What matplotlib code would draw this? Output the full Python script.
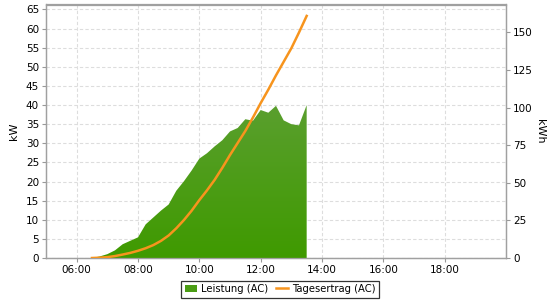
import numpy as np
import matplotlib
matplotlib.use("Agg")
import matplotlib.pyplot as plt
from matplotlib.patches import Patch
from matplotlib.lines import Line2D

# 15 minute values
times = ["06:30", "06:45", "07:00", "07:15", "07:30", "07:45", "08:00", "08:15",
         "08:30", "08:45", "09:00", "09:15", "09:30", "09:45", "10:00", "10:15",
         "10:30", "10:45", "11:00", "11:15", "11:30", "11:45", "12:00", "12:15",
         "12:30", "12:45", "13:00", "13:15", "13:30"]
leistung = [0.0, 0.4, 1.0, 2.0, 3.6, 4.5, 5.4, 8.8, 10.6, 12.4, 14.0, 17.6, 20.1,
            22.9, 26.0, 27.4, 29.2, 30.8, 33.1, 34.0, 36.3, 35.9, 38.7, 38.0,
            39.8, 36.0, 35.0, 34.7, 40.0]
tagesertrag = [0.0, 0.2, 0.6, 1.3, 2.3, 3.4, 4.8, 6.5, 8.6, 11.4, 15.0, 19.8, 25.3,
               31.5, 38.5, 45.0, 52.0, 60.0, 68.5, 76.5, 84.5, 93.5, 103.0, 112.0,
               121.5, 130.5, 139.5, 150.0, 161.0]
xtick_labels = ["06:00", "08:00", "10:00", "12:00", "14:00", "16:00", "18:00"]

def to_hours(s):
    h, m = s.split(":")
    return int(h) + int(m) / 60.0

t = np.array([to_hours(s) for s in times])
p = np.array(leistung)
e = np.array(tagesertrag)

fig = plt.figure(figsize=(5.6, 3.0), dpi=100)
ax = fig.add_axes([46 / 560, 42 / 300, 460 / 560, 253.5 / 300])
ax2 = ax.twinx()

ax.set_xlim(5, 20)
ax.set_ylim(0, 66.3)
ax2.set_ylim(0, 168.6)

# green area with vertical gradient
poly = ax.fill_between(t, 0, p, color="#4a9c14", lw=0, zorder=2)
grad = np.linspace(0, 1, 256).reshape(-1, 1)
cmap = matplotlib.colors.LinearSegmentedColormap.from_list("g", ["#3f9a00", "#5a9f2e"])
img = ax.imshow(grad, cmap=cmap, aspect="auto", origin="lower",
                extent=[t[0], t[-1], 0, p.max()], zorder=3)
img.set_clip_path(poly.get_paths()[0], transform=ax.transData)
poly.set_visible(False)

ax2.plot(t, e, color="#f7941d", lw=1.8, zorder=4)

ax.set_yticks(np.arange(0, 66, 5))
ax2.set_yticks([0, 25, 50, 75, 100, 125, 150])
ax.set_xticks([to_hours(s) for s in xtick_labels])
ax.set_xticklabels(xtick_labels)

ax.grid(True, color="#dddddd", ls=(0, (3, 2)), lw=0.8, zorder=0)
ax.set_axisbelow(True)

for a in (ax, ax2):
    a.tick_params(labelsize=7.5, length=3, width=0.8, color="#999999", pad=2)
    for sp in a.spines.values():
        sp.set_color("#a0a0a0")
        sp.set_linewidth(0.9)

ax.set_ylabel("kW", fontsize=8, labelpad=5)
ax2.set_ylabel("kWh", fontsize=8, rotation=-90, labelpad=9)

handles = [Patch(facecolor="#4a9c14", edgecolor="none"),
           Line2D([0], [0], color="#f7941d", lw=1.8)]
leg = fig.legend(handles, ["Leistung (AC)", "Tagesertrag (AC)"], loc="center",
                 bbox_to_anchor=(280 / 560, 1 - 289 / 300), ncol=2, fontsize=7.2,
                 frameon=True, fancybox=False, handlelength=1.2, handletextpad=0.4,
                 columnspacing=0.8, borderpad=0.35, handleheight=0.8)
leg.get_frame().set_edgecolor("black")
leg.get_frame().set_linewidth(0.9)

fig.savefig("out.png", dpi=100)
